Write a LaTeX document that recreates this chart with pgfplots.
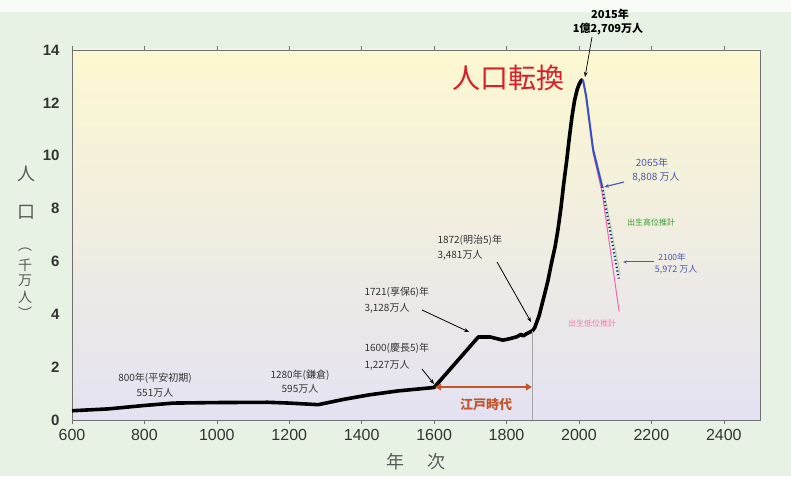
\documentclass[border=0pt]{standalone}
\usepackage{pgfplots}
\pgfplotsset{compat=1.18}
\usepackage{fontspec}
\setmainfont{Liberation Sans}
\newfontfamily\jp{Noto Sans CJK JP}
\usetikzlibrary{arrows.meta}

\definecolor{outerbg}{HTML}{E8F2E4}
\definecolor{plottop}{HTML}{FCF8D0}
\definecolor{plotbot}{HTML}{E4E2F2}
\definecolor{framegray}{HTML}{707070}
\definecolor{tickgray}{HTML}{333333}
\definecolor{projblue}{HTML}{3A50C0}
\definecolor{projnavy}{HTML}{26308A}
\definecolor{projpink}{HTML}{E868B0}
\definecolor{projgreen}{HTML}{B8D8A8}
\definecolor{lblblue}{HTML}{4A58B0}
\definecolor{lblgreen}{HTML}{3A9A30}
\definecolor{lblpink}{HTML}{F080A8}
\definecolor{edo}{HTML}{C0552E}
\definecolor{titlered}{HTML}{D8202A}

\newcommand{\fs}[1]{\fontsize{#1}{#1}\selectfont}

\begin{document}
\begin{tikzpicture}
% page background, 1pt = 1px
\fill[outerbg] (0pt,0pt) rectangle (791pt,476pt);
\fill[white,opacity=0.7] (0pt,464pt) rectangle (791pt,476pt);

\begin{axis}[
  at={(72pt,56pt)}, anchor=south west,
  scale only axis, width=688pt, height=370pt,
  xmin=600, xmax=2500, ymin=0, ymax=14,
  xtick={600,800,...,2400}, ytick={0,2,...,14},
  axis background/.style={shade, top color=plottop, bottom color=plotbot},
  axis line style={draw=framegray, line width=0.9pt},
  tick align=outside, major tick length=4pt,
  xtick style={draw=framegray, line width=0.6pt},
  ytick style={draw=none},
  /pgf/number format/assume math mode=true,
  /pgf/number format/1000 sep={},
  xticklabel style={font=\fs{16}, text=tickgray, yshift=-2pt},
  yticklabel style={font=\fs{15}\bfseries, text=tickgray, xshift=-5pt},
  clip=false,
]
% historical population (10 million)
\addplot[black, line width=3.6pt, line join=round] coordinates {
  (600,0.35)(700,0.42)(800,0.55)(880,0.64)(1000,0.66)(1140,0.67)
  (1200,0.64)(1280,0.58)(1350,0.78)(1420,0.95)(1500,1.10)(1600,1.23)
  (1722,3.14)(1755,3.14)(1790,3.02)(1810,3.08)(1829,3.15)(1840,3.24)
  (1846,3.18)(1855,3.26)(1872,3.38)(1878,3.50)(1890,3.95)(1901,4.54)
  (1914,5.25)(1926,6.06)(1934,6.55)(1942,7.2)(1950,8.0)(1958,8.95)
  (1966,9.8)(1974,10.75)(1981,11.5)(1988,12.1)(1995,12.5)(2001,12.72)
  (2006,12.84)(2011,12.88)
};
% projections
\addplot[projgreen, line width=1pt] coordinates {
  (2011,12.88)(2039,10.35)(2064,9.0)(2114,5.5)
};
\addplot[projpink, line width=1pt] coordinates {
  (2011,12.88)(2020,12.2)(2039,10.1)(2064,8.6)(2111,4.1)
};
\addplot[projblue, line width=2pt] coordinates {
  (2011,12.88)(2020,12.25)(2039,10.23)(2064,8.83)
};
\addplot[projnavy, line width=2.2pt, dash pattern=on 1.3pt off 2.4pt] coordinates {
  (2064,8.83)(2110,5.35)
};
% Meiji vertical marker
\addplot[gray!70, line width=0.6pt] coordinates {(1872,3.38)(1872,0)};
% Edo period arrow
\draw[edo, line width=2.2pt, {Triangle[length=6pt,width=7pt]}-{Triangle[length=6pt,width=7pt]}]
  (axis cs:1603,1.25) -- (axis cs:1870,1.25);
\end{axis}

\begin{scope}[x=1pt, y=-1pt, shift={(0pt,476pt)}]
% y axis label (vertical)
\node[text=black!65] at (26,174) {\jp\fs{18}人};
\node[text=black!65] at (26,212) {\jp\fs{18}口};
\node[text=black!65, inner sep=0pt] at (25,250) {\jp\fs{14}︵};
\node[text=black!65, inner sep=0pt] at (25,265) {\jp\fs{14}千};
\node[text=black!65, inner sep=0pt] at (25,281) {\jp\fs{14}万};
\node[text=black!65, inner sep=0pt] at (25,297) {\jp\fs{14}人};
\node[text=black!65, inner sep=0pt] at (25,313) {\jp\fs{14}︶};
% x axis label
\node[text=black!65] at (395,462) {\jp\fs{18}年};
\node[text=black!65] at (436,462) {\jp\fs{18}次};

% title-like label
\node[text=titlered] at (508,78) {\jp\fs{28}人口転換};

% peak
\node at (610,14) {\jp\fs{11}\bfseries 2015年};
\node at (608,29) {\jp\fs{11}\bfseries 1億2,709万人};
\draw[-{Stealth[length=5pt]}, line width=0.7pt] (592,37) -- (585,77);

% 2065
\node[text=lblblue] at (652,163) {\jp\fs{10}2065年};
\node[text=lblblue] at (656,177) {\jp\fs{10}8,808 万人};
\draw[lblblue, line width=1.2pt, -{Stealth[length=5pt]}] (624,182) -- (604,187);
\node[text=lblgreen] at (651,222) {\jp\fs{8}出生高位推計};
% 2100
\node[text=lblblue] at (672,257) {\jp\fs{8.5}2100年};
\node[text=lblblue] at (676,270) {\jp\fs{9}5,972 万人};
\draw[lblblue, line width=1pt, -{Stealth[length=4pt]}] (654,262) -- (623,262);
\node[text=lblpink] at (592,323) {\jp\fs{8}出生低位推計};

% 1872
\node[anchor=west, text=tickgray] at (434,240) {\jp\fs{10}1872(明治5)年};
\node[anchor=west, text=tickgray] at (434,255) {\jp\fs{10}3,481万人};
\draw[line width=0.8pt, -{Stealth[length=5pt]}] (497,262) -- (531,322);
% 1721
\node[anchor=west, text=tickgray] at (361,292) {\jp\fs{10}1721(享保6)年};
\node[anchor=west, text=tickgray] at (361,308) {\jp\fs{10}3,128万人};
\draw[line width=0.8pt, -{Stealth[length=5pt]}] (422,310) -- (469,332);
% 1600
\node[anchor=west, text=tickgray] at (361,348) {\jp\fs{10}1600(慶長5)年};
\node[anchor=west, text=tickgray] at (361,365) {\jp\fs{10}1,227万人};
\draw[line width=0.8pt, -{Stealth[length=5pt]}] (422,369) -- (434,384);
% 800 / 1280
\node[text=tickgray] at (155,378) {\jp\fs{10}800年(平安初期)};
\node[text=tickgray] at (155,393) {\jp\fs{10}551万人};
\node[text=tickgray] at (300,375) {\jp\fs{10}1280年(鎌倉)};
\node[text=tickgray] at (300,389) {\jp\fs{10}595万人};
% Edo label
\node[text=edo] at (486,405) {\jp\fs{13}\bfseries 江戸時代};
\end{scope}
\end{tikzpicture}
\end{document}
